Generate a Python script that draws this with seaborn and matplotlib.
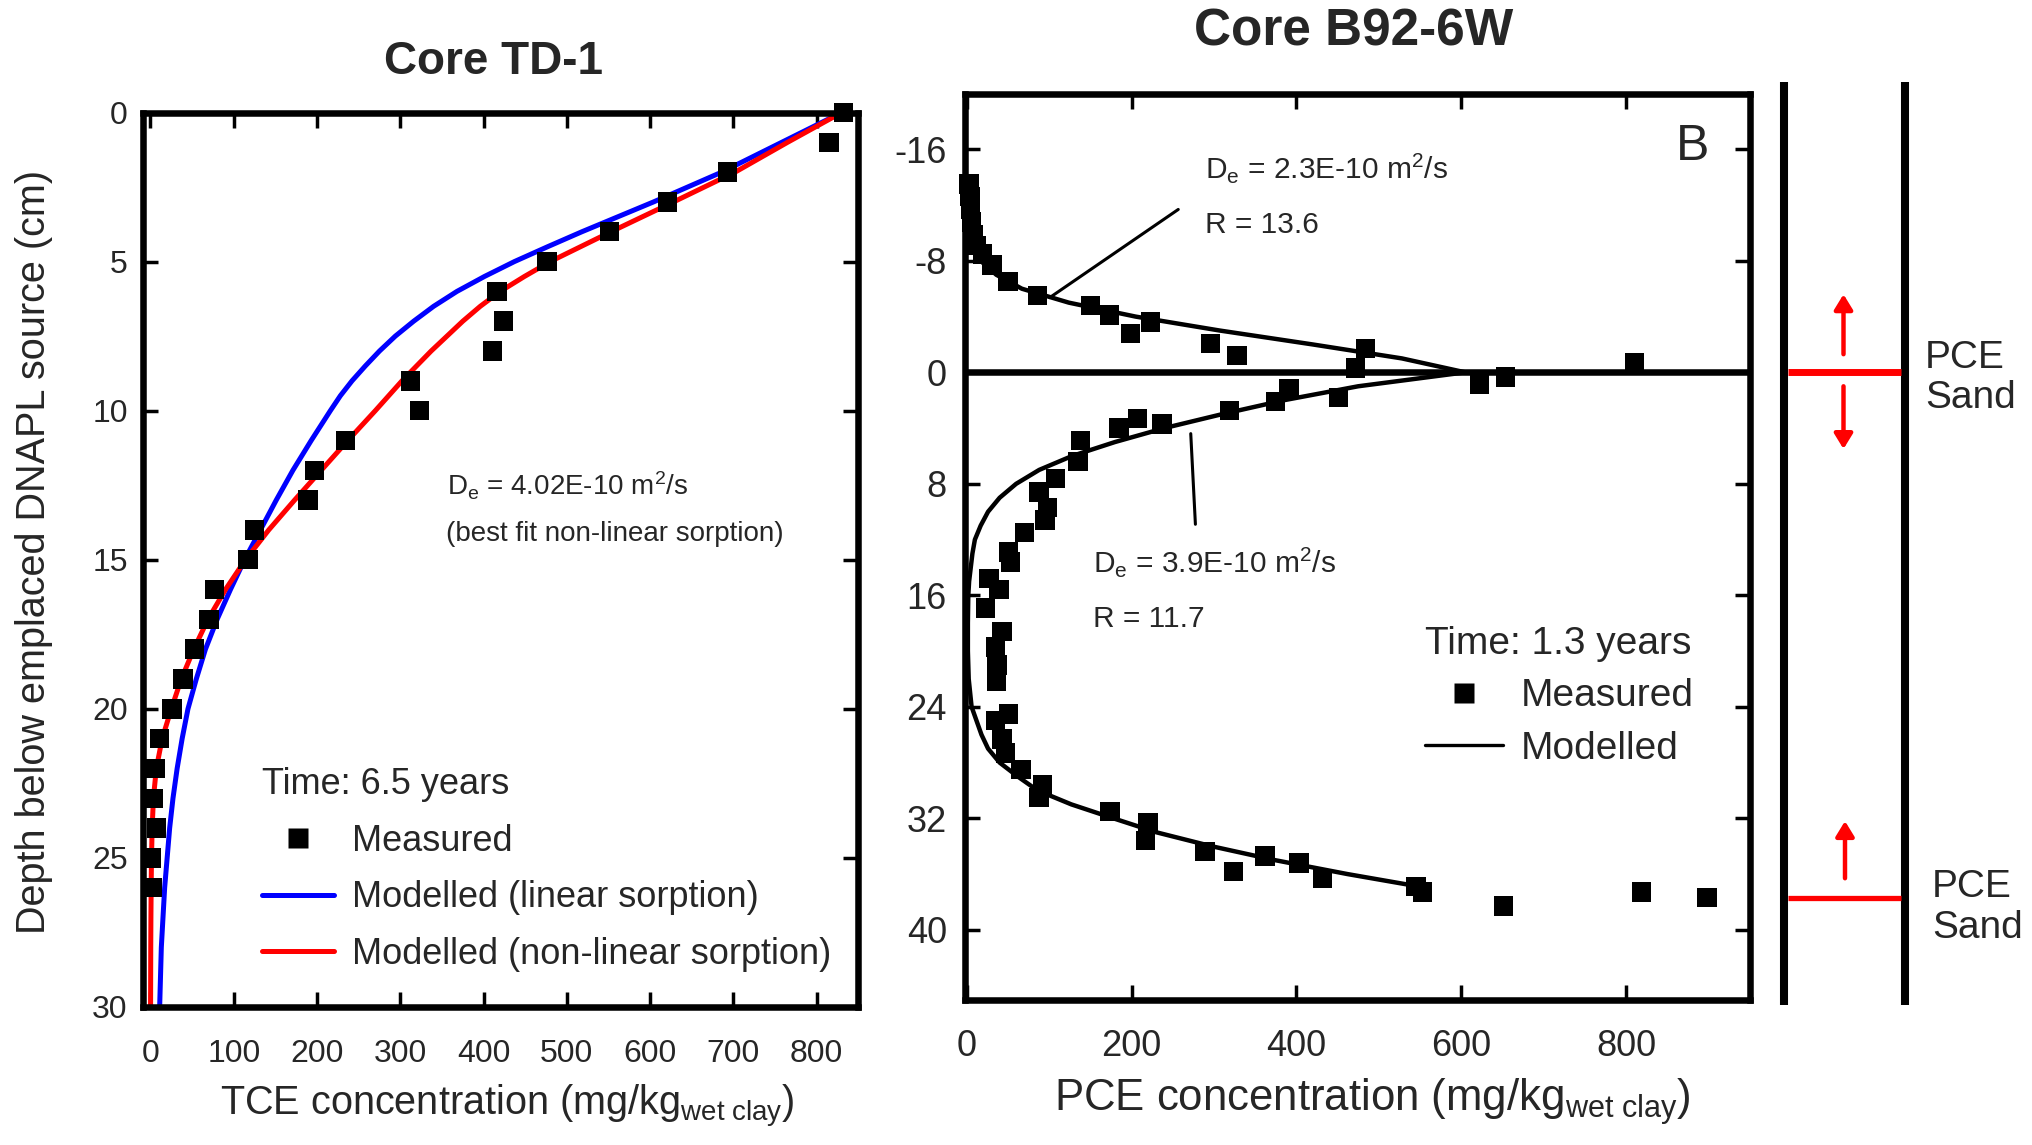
import matplotlib
matplotlib.use("Agg")
import matplotlib.pyplot as plt
import seaborn as sns
from matplotlib.lines import Line2D

# ---------------- Core TD-1 data ----------------
td1_meas_depth = [0, 1, 2, 3, 4, 5, 6, 7, 8, 9, 10, 11, 12, 13, 14, 15, 16, 17, 18,
                  19, 20, 21, 22, 23, 24, 25, 26]
td1_meas_conc = [832, 815, 693, 621, 551, 476, 416, 424, 411, 312, 323, 234, 197, 189,
                 125, 117, 77, 70, 53, 39, 26, 11, 6, 3, 7, 1, 2]

td1_lin_depth = [0, 1, 2, 3, 4, 4.5, 5, 5.5, 6, 6.5, 7, 7.5, 8, 8.5, 9, 9.5, 10, 11, 12,
                 13, 14, 15, 16, 17, 18, 19, 20, 21, 22, 23, 24, 25, 26, 27, 28, 29, 30]
td1_linear = [830, 758, 686, 604, 518, 477, 437, 401, 368, 340, 316, 294, 275, 258, 242,
              228, 216, 193, 171, 151, 132, 113, 96, 80, 66, 55, 45, 38, 32, 27, 23, 20,
              17, 15, 13, 12, 11]
td1_nonlin_depth = [0, 1, 2, 3, 4, 5, 5.5, 6, 6.5, 7, 8, 9, 10, 11, 12, 13, 14, 15, 16,
                    17, 18, 19, 20, 21, 22, 23, 24, 25, 26, 27, 28, 29, 30]
td1_nonlinear = [830, 765, 702, 628, 553, 480, 449, 420, 396, 375, 337, 302, 270, 237,
                 205, 173, 142, 114, 90, 69, 52, 37, 25, 14, 7, 3.5, 2, 1.2, 0.8, 0.5,
                 0.3, 0.2, 0.1]

td1_xticks = [0, 100, 200, 300, 400, 500, 600, 700, 800]
td1_yticks = [0, 5, 10, 15, 20, 25, 30]

# ---------------- Core B92-6W data ----------------
b92_meas_conc = [3, 4, 5, 6, 8, 12, 19, 31, 50, 86, 150, 173, 223, 199, 296, 328, 484,
                 472, 810,
                 654, 622, 391, 451, 375, 319, 207, 237, 185, 138, 135, 108, 88, 98, 95,
                 70, 51, 53, 27, 39, 23, 43, 35, 37, 36, 51, 35, 43, 47, 66, 92, 88, 174,
                 220, 217, 289, 324, 362, 403, 432, 545, 553, 651, 819, 898]
b92_meas_depth = [-13.5, -12.6, -11.7, -10.8, -9.9, -9.1, -8.5, -7.7, -6.5, -5.5, -4.8,
                  -4.1, -3.6, -2.8, -2.05, -1.2, -1.7, -0.3, -0.7,
                  0.35, 0.85, 1.2, 1.8, 2.1, 2.75, 3.3, 3.7, 4.0, 4.9, 6.4, 7.6, 8.6, 9.7,
                  10.6, 11.5, 12.9, 13.6, 14.8, 15.6, 16.9, 18.6, 19.7, 21.0, 22.2, 24.5,
                  25.0, 26.3, 27.3, 28.5, 29.6, 30.5, 31.5, 32.3, 33.6, 34.4, 35.8, 34.7,
                  35.2, 36.3, 36.9, 37.3, 38.3, 37.3, 37.7]

b92_model_depth = [-14, -13, -12, -11, -10, -9, -8, -7, -6, -5, -4, -3, -2, -1, 0,
                   1, 2, 3, 4, 5, 6, 7, 8, 9, 10, 11, 12, 13, 14, 15, 16, 18, 20, 22,
                   24, 25, 26, 27, 28, 29, 30, 31, 32, 33, 34, 35, 36, 37]
b92_model_conc = [2, 3, 3.5, 4, 5, 8, 17, 36, 67, 124, 205, 307, 420, 528, 605,
                  475, 385, 310, 240, 180, 128, 88, 60, 40, 26, 17, 10, 7, 5, 3, 2, 1.5,
                  1.5, 2.5, 6, 12, 18, 26, 40, 62, 86, 127, 178, 230, 297, 374, 462, 559]

b92_xticks = [0, 200, 400, 600, 800]
b92_yticks = [-16, -8, 0, 8, 16, 24, 32, 40]

sand_depths = [0, 37.7]
core_span = [-20.8, 45.4]

# ---------------- style ----------------
sns.set_style("ticks")
plt.rcParams["font.family"] = ["Liberation Sans", "DejaVu Sans"]
plt.rcParams["mathtext.fontset"] = "custom"
plt.rcParams["mathtext.rm"] = "Liberation Sans"
plt.rcParams["mathtext.it"] = "Liberation Sans:italic"
plt.rcParams["mathtext.bf"] = "Liberation Sans:bold"
plt.rcParams["axes.unicode_minus"] = False

W, H = 2032, 1145
fig = plt.figure(figsize=(W / 100, H / 100), dpi=100)
fig.patch.set_facecolor("white")


def fx(px):
    return px / W


def fy(py):
    return 1 - py / H


def add_ax(l, t, r, b):
    return fig.add_axes([fx(l), fy(b), (r - l) / W, (b - t) / H])


ax1 = add_ax(143, 112.5, 857.5, 1007)
ax2 = add_ax(965, 93.6, 1749.7, 999.5)
ax3 = add_ax(1760, 93.6, 2032, 999.5)

SPINE_LW = 4.7
MS = 14

# ---------------- left panel ----------------
sns.lineplot(x=td1_linear, y=td1_lin_depth, sort=False, estimator=None,
             color="#0000ff", lw=3.6, ax=ax1, legend=False)
sns.lineplot(x=td1_nonlinear, y=td1_nonlin_depth, sort=False, estimator=None,
             color="#ff0000", lw=3.6, ax=ax1, legend=False)
sns.scatterplot(x=td1_meas_conc, y=td1_meas_depth, marker="s", s=MS ** 2,
                color="black", edgecolor="none", linewidth=0, clip_on=False,
                zorder=5, ax=ax1, legend=False)
ax1.set_xlim(-9, 849)
ax1.set_ylim(30, 0)
ax1.set_xticks(td1_xticks)
ax1.set_yticks(td1_yticks)
ax1.tick_params(axis="both", direction="in", length=11, width=2.5, top=True,
                right=True, labelsize=23, color="black")
ax1.tick_params(axis="x", pad=23)
ax1.tick_params(axis="y", pad=11)

ax1.set_xlabel(r"TCE concentration (mg/kg$_{\mathrm{wet\ clay}}$)", fontsize=28.5,
               va="baseline")
ax1.xaxis.set_label_coords((507 - 143) / 714.5, 1 - (1115 - 112.5) / 894.5)
ax1.set_ylabel("Depth below emplaced DNAPL source (cm)", fontsize=28.5, va="center")
ax1.yaxis.set_label_coords((34 - 143) / 714.5, 1 - (552 - 112.5) / 894.5)

h1 = [Line2D([], [], ls="none", marker="s", ms=MS, color="black", mec="none"),
      Line2D([], [], color="#0000ff", lw=3.6),
      Line2D([], [], color="#ff0000", lw=3.6)]
leg1 = ax1.legend(h1, ["Measured", "Modelled (linear sorption)",
                       "Modelled (non-linear sorption)"],
                  title="Time: 6.5 years", loc="upper left",
                  bbox_to_anchor=((262 - 143) / 714.5, 1 - (767 - 112.5) / 894.5),
                  frameon=False, fontsize=26, title_fontsize=26, handlelength=2.0,
                  handletextpad=0.5, labelspacing=0.6, borderpad=0,
                  borderaxespad=0, alignment="left")

fig.text(fx(447), fy(495), r"D$_{\mathrm{e}}$ = 4.02E-10 m$^{2}$/s", fontsize=20,
         ha="left", va="baseline")
fig.text(fx(446), fy(541), "(best fit non-linear sorption)", fontsize=20,
         ha="left", va="baseline")

# ---------------- right panel ----------------
ax2.axhline(0, color="black", lw=SPINE_LW, zorder=3)
sns.lineplot(x=b92_model_conc, y=b92_model_depth, sort=False, estimator=None,
             color="black", lw=3.2, ax=ax2, legend=False)
sns.scatterplot(x=b92_meas_conc, y=b92_meas_depth, marker="s", s=MS ** 2,
                color="black", edgecolor="none", linewidth=0, clip_on=False,
                zorder=5, ax=ax2, legend=False)
ax2.set_xlim(-2, 950)
ax2.set_ylim(45, -20)
ax2.set_xticks(b92_xticks)
ax2.set_yticks(b92_yticks)
ax2.tick_params(axis="both", direction="in", length=11, width=2.5, top=True,
                right=True, labelsize=26, color="black")
ax2.tick_params(axis="x", pad=21)
ax2.tick_params(axis="y", pad=13)
ax2.set_xlabel(r"PCE concentration (mg/kg$_{\mathrm{wet\ clay}}$)", fontsize=31.5,
               va="baseline")
ax2.xaxis.set_label_coords((1372 - 965) / 784.7, 1 - (1111 - 93.6) / 905.9)

ax2.annotate("", xy=(98, -5.25), xytext=(259.5, -11.8),
             arrowprops=dict(arrowstyle="-", color="black", lw=2.2))
ax2.annotate("", xy=(271.7, 4.2), xytext=(277.7, 11.1),
             arrowprops=dict(arrowstyle="-", color="black", lw=2.2))

fig.text(fx(1205), fy(178), r"D$_{\mathrm{e}}$ = 2.3E-10 m$^{2}$/s", fontsize=21.5,
         ha="left", va="baseline")
fig.text(fx(1205), fy(233), "R = 13.6", fontsize=21.5, ha="left", va="baseline")
fig.text(fx(1093), fy(572), r"D$_{\mathrm{e}}$ = 3.9E-10 m$^{2}$/s", fontsize=21.5,
         ha="left", va="baseline")
fig.text(fx(1093), fy(627), "R = 11.7", fontsize=21.5, ha="left", va="baseline")
fig.text(fx(1693), fy(147), "B", fontsize=36, ha="center", va="center")

h2 = [Line2D([], [], ls="none", marker="s", ms=MS, color="black", mec="none"),
      Line2D([], [], color="black", lw=2.4)]
leg2 = ax2.legend(h2, ["Measured", "Modelled"], title="Time: 1.3 years",
                  loc="upper left",
                  bbox_to_anchor=((1425 - 965) / 784.7, 1 - (626 - 93.6) / 905.9),
                  frameon=False, fontsize=28, title_fontsize=28, handlelength=2.0,
                  handletextpad=0.46, labelspacing=0.42, borderpad=0,
                  borderaxespad=0, alignment="left")

for ax in (ax1, ax2):
    for sp in ax.spines.values():
        sp.set_linewidth(SPINE_LW)
        sp.set_color("black")
    ax.set_facecolor("white")

# ---------------- titles ----------------
fig.text(fx(494), fy(62), "Core TD-1", fontsize=33, fontweight="bold",
         ha="center", va="center")
fig.text(fx(1354), fy(32), "Core B92-6W", fontsize=37, fontweight="bold",
         ha="center", va="center")

# ---------------- core schematic ----------------
ax3.set_xlim(0, 272)
ax3.set_ylim(45, -20)
ax3.axis("off")
ax3.vlines([24, 145], core_span[0], core_span[1], colors="black", lw=5.8,
           clip_on=False)
ax3.hlines(sand_depths, 28, 141, colors="#ff0000", lw=[5.0, 3.8], clip_on=False)
arrow_kw = dict(arrowstyle="-|>,head_length=0.9,head_width=0.55", color="#ff0000",
                lw=3.2, shrinkA=0, shrinkB=0)
ax3.annotate("", xy=(83.5, -5.6), xytext=(83.5, -1.3), arrowprops=arrow_kw)
ax3.annotate("", xy=(83.5, 5.5), xytext=(83.5, 1.0), arrowprops=arrow_kw)
ax3.annotate("", xy=(85, 32.2), xytext=(85, 36.3), arrowprops=arrow_kw)
ax3.text(165, sand_depths[0] + 0.4, "PCE\nSand", fontsize=28, ha="left",
         va="center", linespacing=1.15)
ax3.text(172, sand_depths[1] + 0.7, "PCE\nSand", fontsize=28, ha="left",
         va="center", linespacing=1.15)

fig.savefig("out.png", dpi=100)
